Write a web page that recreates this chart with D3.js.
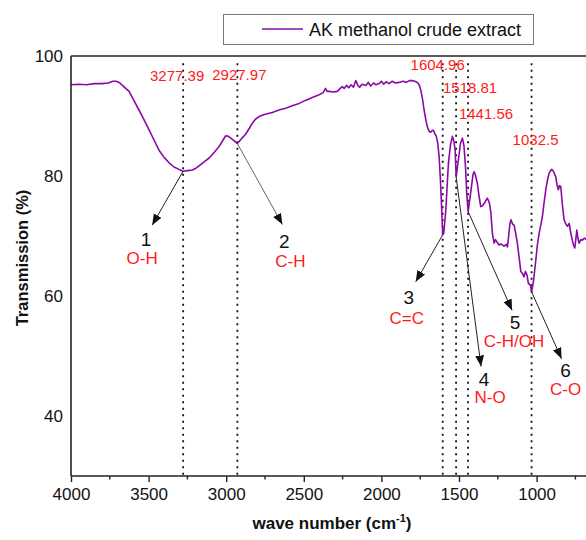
<!DOCTYPE html>
<html lang="en">
<head>
    <meta charset="UTF-8">
    <title>FTIR spectrum - AK methanol crude extract</title>
    <script src="https://d3js.org/d3.v7.min.js"></script>
    <style>
        body { margin: 0; background: #fff; }
        svg { font-family: Arial, "Liberation Sans", sans-serif; }
    </style>
</head>
<body>
<div id="chart"></div>
<script>
    // spectrum: wave number (cm-1) and transmission (%)
    const waveNumbers = [4000, 3950, 3900, 3850, 3800, 3760, 3730, 3710, 3690, 3660, 3626, 3595, 3562, 3530, 3497, 3465, 3433, 3400, 3368, 3336, 3304, 3277, 3250, 3218, 3195, 3175, 3140, 3110, 3075, 3046, 3020, 3003, 2985, 2960, 2940, 2928, 2915, 2895, 2874, 2850, 2832, 2810, 2788, 2760, 2730, 2703, 2660, 2617, 2575, 2530, 2490, 2445, 2405, 2375, 2360, 2350, 2337, 2310, 2284, 2265, 2252, 2240, 2225, 2210, 2195, 2180, 2165, 2150, 2140, 2125, 2100, 2085, 2070, 2050, 2035, 2015, 2000, 1985, 1970, 1950, 1930, 1910, 1886, 1860, 1840, 1820, 1801, 1785, 1768, 1757, 1746, 1735, 1725, 1714, 1704, 1692, 1682, 1672, 1665, 1655, 1646, 1637, 1628, 1620, 1613, 1605, 1598, 1585, 1575, 1568, 1555, 1542, 1533, 1525, 1518, 1505, 1490, 1478, 1468, 1458, 1450, 1441, 1432, 1420, 1410, 1403, 1395, 1382, 1370, 1360, 1350, 1338, 1325, 1317, 1305, 1295, 1285, 1274, 1265, 1255, 1242, 1230, 1210, 1195, 1188, 1180, 1172, 1165, 1155, 1145, 1135, 1124, 1112, 1102, 1092, 1081, 1072, 1062, 1053, 1040, 1032, 1020, 1005, 995, 984, 973, 963, 952, 941, 930, 920, 910, 902, 890, 877, 868, 860, 852, 844, 835, 823, 812, 801, 790, 780, 770, 762, 754, 747, 741, 733, 726, 715, 705, 695, 688, 680];
    const transmission = [95.2, 95.3, 95.2, 95.4, 95.4, 95.5, 95.8, 95.8, 95.6, 94.9, 94.1, 92.6, 91.0, 89.4, 87.7, 86.0, 84.3, 83.1, 82.2, 81.5, 81.1, 80.8, 80.9, 81.0, 81.3, 81.7, 82.4, 83.0, 84.0, 84.9, 86.0, 86.7, 86.6, 86.1, 85.7, 85.4, 85.8, 86.4, 87.0, 88.0, 88.8, 89.5, 89.9, 90.2, 90.4, 90.6, 91.0, 91.3, 91.7, 92.1, 92.6, 93.1, 93.5, 93.9, 94.6, 94.1, 94.1, 94.0, 94.1, 94.6, 94.9, 94.6, 95.1, 94.7, 95.2, 94.8, 95.9, 95.0, 94.8, 95.3, 95.1, 95.6, 95.0, 95.5, 95.2, 95.4, 95.8, 95.3, 95.7, 95.4, 95.8, 95.5, 95.6, 95.8, 95.6, 95.9, 95.9, 95.8, 95.6, 95.2, 94.3, 92.8, 91.0, 89.4, 88.2, 87.4, 87.3, 87.6, 87.6, 87.0, 86.6, 85.5, 83.2, 79.5, 75.4, 70.2, 70.5, 74.3, 79.0, 82.1, 85.2, 86.6, 85.8, 84.3, 79.9, 82.5, 85.5, 86.3, 85.0, 81.5, 77.0, 74.1, 75.8, 78.2, 80.2, 80.7, 80.2, 78.8, 76.5, 74.9, 75.0, 75.4, 76.0, 76.3, 75.6, 74.0, 70.5, 68.8, 69.4, 69.0, 68.5, 68.7, 68.3, 68.6, 68.2, 70.0, 72.0, 72.7, 72.0, 71.8, 70.5, 68.8, 66.3, 64.1, 63.8, 63.2, 64.1, 63.5, 62.1, 61.8, 60.7, 62.5, 66.0, 68.5, 70.4, 71.8, 73.2, 75.5, 77.7, 79.3, 80.4, 80.9, 81.1, 80.7, 79.9, 78.5, 77.7, 78.4, 78.2, 75.5, 72.7, 72.0, 71.6, 72.1, 70.5, 69.3, 68.5, 68.0, 69.5, 71.0, 69.5, 68.8, 69.4, 69.3, 69.6, 69.6, 69.4];

    const seriesName = "AK methanol crude extract";

    // marked peaks
    const peakWaves = [3277.39, 2927.97, 1604.96, 1518.81, 1441.56, 1032.5];
    const peakValues = [80.8, 85.4, 70.2, 79.9, 74.1, 60.7];
    const peakTexts = ["3277.39", "2927.97", "1604.96", "1518.81", "1441.56", "1032.5"];
    const bandNumbers = ["1", "2", "3", "4", "5", "6"];
    const bandNames = ["O-H", "C-H", "C=C", "N-O", "C-H/OH", "C-O"];

    const xTicks = [4000, 3500, 3000, 2500, 2000, 1500, 1000];
    const yTicks = [40, 60, 80, 100];

    // where each peak's texts and arrow sit (pixel offsets from the peak point)
    const layout = [
        {labelDx: -6, labelY: 81, tip: [-31, 54], num: [-37, 75], name: [-41, 93]},
        {labelDx: 2, labelY: 80, tip: [45, 81], num: [47, 104], name: [53, 123]},
        {labelDx: -5, labelY: 70, tip: [-27, 47], num: [-34, 69], name: [-36, 89]},
        {labelDx: 14, labelY: 93, tip: [25, 190], num: [28, 209], name: [34, 226]},
        {labelDx: 18, labelY: 119, tip: [44, 99], num: [47, 118], name: [46, 136]},
        {labelDx: 4, labelY: 145, tip: [30, 67], num: [34, 85], name: [34, 103]}
    ];

    const width = 586, height = 540;
    const plotLeft = 71, plotTop = 56, plotBottom = 476;

    const x = d3.scaleLinear().domain([4000, 1000]).range([plotLeft, plotLeft + 6 * 77.6]);
    const y = d3.scaleLinear().domain([30, 100]).range([plotBottom, plotTop]);
    const xRight = 620;

    const svg = d3.select("#chart").append("svg")
        .attr("width", width)
        .attr("height", height);

    svg.append("defs").append("marker")
        .attr("id", "head")
        .attr("viewBox", "0 0 10 10")
        .attr("refX", 10).attr("refY", 5)
        .attr("markerWidth", 11).attr("markerHeight", 11)
        .attr("markerUnits", "userSpaceOnUse")
        .attr("orient", "auto")
        .append("path")
        .attr("d", "M0,1 L10,5 L0,9 Z")
        .attr("fill", "#111");

    // dotted guide lines
    svg.selectAll(".guide")
        .data(peakWaves)
        .enter()
        .append("line")
        .attr("x1", d => x(d)).attr("x2", d => x(d))
        .attr("y1", y(98.8)).attr("y2", plotBottom)
        .attr("stroke", "#111")
        .attr("stroke-width", 1.8)
        .attr("stroke-dasharray", "2,4.5");

    // spectrum
    const points = waveNumbers.map((w, i) => [w, transmission[i]]);
    const line = d3.line()
        .x(d => x(d[0]))
        .y(d => y(d[1]));

    svg.append("path")
        .datum(points)
        .attr("d", line)
        .attr("fill", "none")
        .attr("stroke", "#8a0aa6")
        .attr("stroke-width", 1.6)
        .attr("stroke-linejoin", "round");

    // frame
    svg.append("line").attr("x1", plotLeft).attr("x2", xRight).attr("y1", plotTop).attr("y2", plotTop)
        .attr("stroke", "#222").attr("stroke-width", 1.6);
    svg.append("line").attr("x1", plotLeft).attr("x2", plotLeft).attr("y1", plotTop).attr("y2", plotBottom)
        .attr("stroke", "#222").attr("stroke-width", 1.6);

    // x axis
    const xAxis = d3.axisBottom(x)
        .tickValues(xTicks)
        .tickSize(6)
        .tickPadding(6)
        .tickFormat(d3.format("d"));
    const gx = svg.append("g")
        .attr("transform", `translate(0,${plotBottom})`)
        .call(xAxis);
    gx.select(".domain").remove();
    gx.selectAll(".tick line").attr("stroke", "#222").attr("stroke-width", 1.4);
    gx.selectAll(".tick text").style("font-size", "17px").attr("fill", "#111");
    svg.append("line").attr("x1", plotLeft).attr("x2", xRight).attr("y1", plotBottom).attr("y2", plotBottom)
        .attr("stroke", "#222").attr("stroke-width", 1.6);

    // minor ticks
    svg.selectAll(".minor")
        .data(d3.range(3750, 600, -500))
        .enter()
        .append("line")
        .attr("x1", d => x(d)).attr("x2", d => x(d))
        .attr("y1", plotBottom).attr("y2", plotBottom + 3.5)
        .attr("stroke", "#222").attr("stroke-width", 1.4);

    // y axis labels
    const gy = svg.append("g")
        .attr("transform", `translate(${plotLeft},0)`)
        .call(d3.axisLeft(y).tickValues(yTicks).tickSize(0).tickPadding(8));
    gy.select(".domain").remove();
    gy.selectAll(".tick text").style("font-size", "17px").attr("fill", "#111");

    // axis titles
    const xt = svg.append("text")
        .attr("x", 332).attr("y", 529)
        .attr("text-anchor", "middle")
        .style("font-size", "17px")
        .style("font-weight", "bold")
        .attr("fill", "#111");
    xt.append("tspan").text("wave number (cm");
    xt.append("tspan").attr("dy", -7).style("font-size", "11px").text("-1");
    xt.append("tspan").attr("dy", 7).text(")");

    svg.append("text")
        .attr("transform", `translate(28,${(plotTop + plotBottom) / 2 - 8}) rotate(-90)`)
        .attr("text-anchor", "middle")
        .style("font-size", "16.5px")
        .style("font-weight", "bold")
        .attr("fill", "#111")
        .text("Transmission (%)");

    // peak annotations
    peakWaves.forEach((w, i) => {
        const px = x(w), py = y(peakValues[i]);
        const L = layout[i];

        svg.append("text")
            .attr("x", px + L.labelDx).attr("y", L.labelY)
            .attr("text-anchor", "middle")
            .style("font-size", "15px")
            .attr("fill", "#ff1a1a")
            .text(peakTexts[i]);

        svg.append("line")
            .attr("x1", px).attr("y1", py)
            .attr("x2", px + L.tip[0]).attr("y2", py + L.tip[1])
            .attr("stroke", i === 1 ? "#666" : "#222")
            .attr("stroke-width", 1)
            .attr("marker-end", "url(#head)");

        svg.append("text")
            .attr("x", px + L.num[0]).attr("y", py + L.num[1])
            .attr("text-anchor", "middle")
            .style("font-size", "19px")
            .attr("fill", "#111")
            .text(bandNumbers[i]);

        svg.append("text")
            .attr("x", px + L.name[0]).attr("y", py + L.name[1])
            .attr("text-anchor", "middle")
            .style("font-size", "17px")
            .attr("fill", "#ff1a1a")
            .text(bandNames[i]);
    });

    // legend
    const lg = svg.append("g");
    lg.append("rect")
        .attr("x", 223.5).attr("y", 14.5)
        .attr("width", 310).attr("height", 30)
        .attr("fill", "#fff")
        .attr("stroke", "#777")
        .attr("stroke-width", 1);
    lg.append("line")
        .attr("x1", 262).attr("x2", 303).attr("y1", 29).attr("y2", 29)
        .attr("stroke", "#8a0aa6").attr("stroke-width", 1.6);
    lg.append("text")
        .attr("x", 309).attr("y", 36)
        .style("font-size", "18px")
        .attr("fill", "#111")
        .text(seriesName);
</script>
</body>
</html>
